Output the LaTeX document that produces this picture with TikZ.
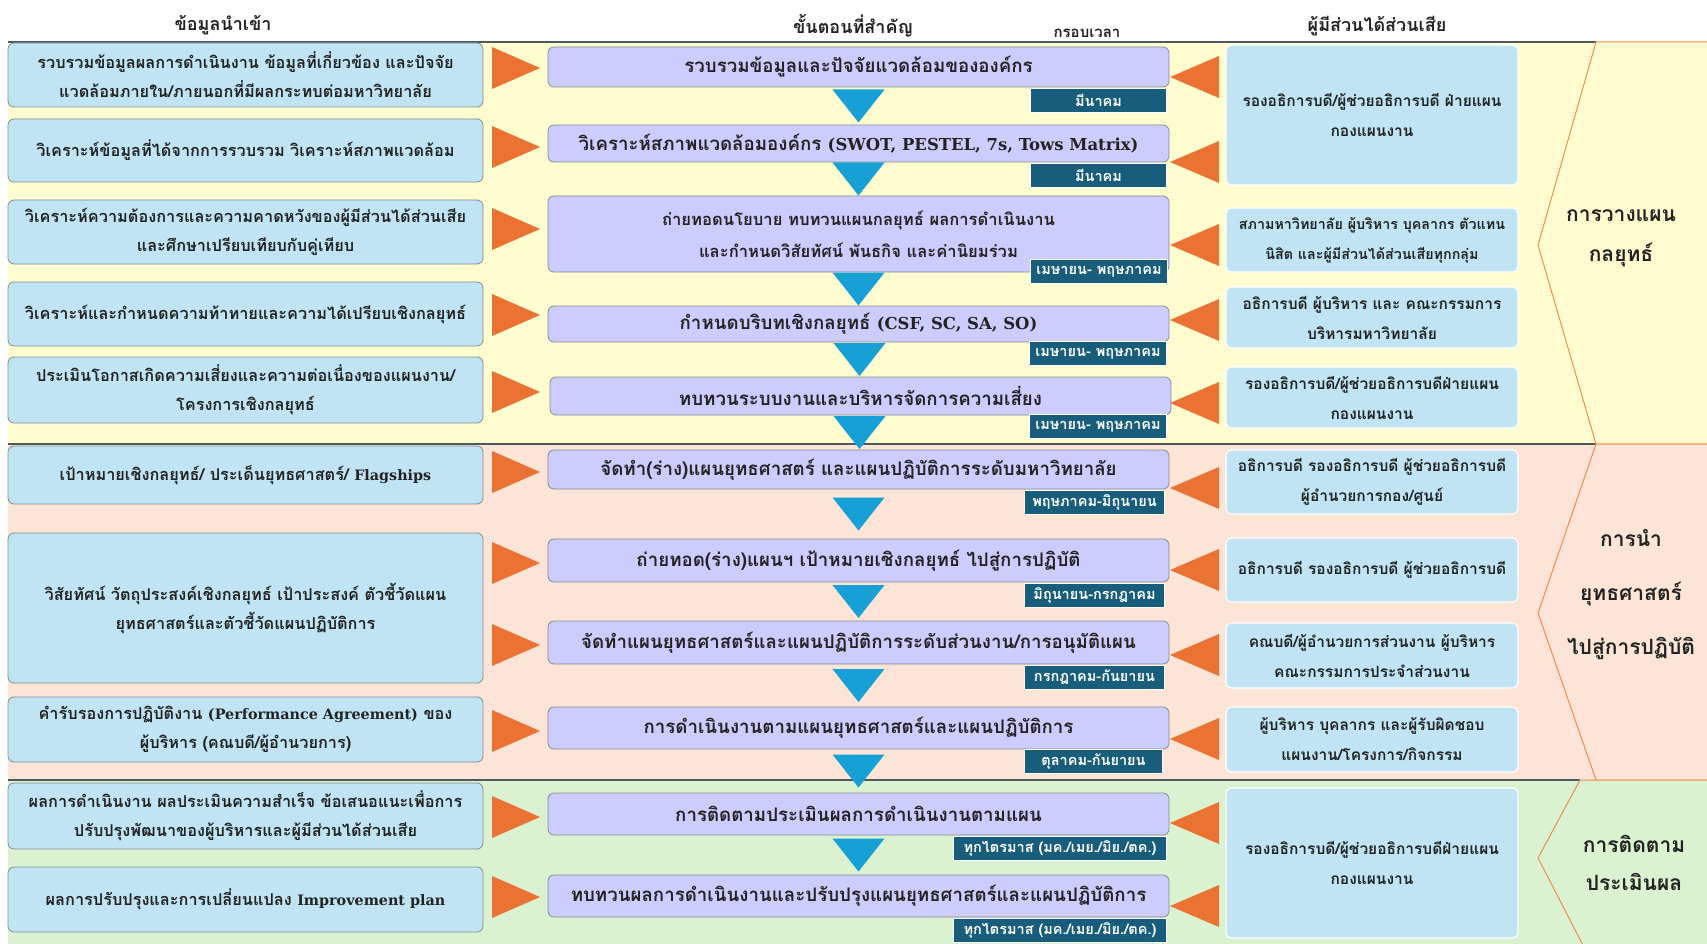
\documentclass[tikz,border=0pt]{standalone}
\usepackage{fontspec}
\usetikzlibrary{calc}
\newfontfamily\thai[Script=Thai]{Loma}
\newfontfamily\en[Scale=0.88]{DejaVu Serif}

\definecolor{bandyellow}{RGB}{255,253,208}
\definecolor{bandpink}{RGB}{252,228,214}
\definecolor{bandgreen}{RGB}{218,242,208}
\definecolor{skyfill}{RGB}{192,228,244}
\definecolor{stepfill}{RGB}{204,204,255}
\definecolor{tagfill}{RGB}{24,94,124}
\definecolor{flowblue}{RGB}{22,160,214}
\definecolor{pointer}{RGB}{234,114,50}
\definecolor{phaseline}{RGB}{240,140,80}
\definecolor{divider}{RGB}{75,90,95}
\definecolor{boxline}{RGB}{130,140,145}
\definecolor{ink}{RGB}{35,35,35}

\tikzset{
  inbox/.style={draw=boxline, fill=skyfill, rounded corners=6pt, line width=0.8pt,
    align=center, text=ink, inner sep=0pt, minimum width=475,
    font=\thai\bfseries\fontsize{16.3}{29}\selectfont},
  stepbox/.style={draw=boxline, fill=stepfill, rounded corners=6pt, line width=0.8pt,
    align=center, text=ink, inner sep=0pt, minimum width=621,
    font=\thai\bfseries\fontsize{18.7}{32}\selectfont},
  timetag/.style={draw=white, fill=tagfill, line width=1pt, anchor=north east,
    text=white, inner sep=0pt, minimum height=24,
    font=\thai\bfseries\fontsize{14.5}{16}\selectfont},
  holder/.style={draw=white, fill=skyfill, rounded corners=6pt, line width=1.2pt,
    align=center, text=ink, inner sep=0pt, minimum width=292,
    font=\thai\bfseries\fontsize{15.5}{30}\selectfont},
  pointtri/.style={fill=pointer},
  flowtri/.style={fill=flowblue},
  phase/.style={draw=phaseline, line width=1pt},
  phaselabel/.style={align=center, text=ink, font=\thai\bfseries\fontsize{21}{40}\selectfont},
  colhead/.style={text=ink, font=\thai\bfseries\fontsize{18}{20}\selectfont},
  bandline/.style={draw=divider, line width=1.2pt}
}

\begin{document}
\begin{tikzpicture}[x=1pt,y=-1pt]
\clip (0,0) rectangle (1707,944);
\fill[white] (0,0) rectangle (1707,944);

% phase bands
\fill[bandyellow] (8,42) rectangle (1707,444);
\fill[bandpink] (8,444) rectangle (1707,780);
\fill[bandgreen] (8,780) rectangle (1707,950);
\draw[bandline] (8,42) -- (1596,42);
\draw[bandline] (8,444) -- (1596,444);
\draw[bandline] (8,780) -- (1580,780);

% phase chevrons on the right
\filldraw[phase, fill=bandyellow] (1712,42) -- (1596,42) -- (1538,245) -- (1596,444) -- (1712,444);
\filldraw[phase, fill=bandpink] (1712,444) -- (1596,444) -- (1538,613) -- (1596,780) -- (1712,780);
\filldraw[phase, fill=bandgreen] (1712,780) -- (1580,780) -- (1538,858) -- (1588,955) -- (1712,955);

\node[phaselabel] (p1) at (1621,238) {การวางแผน\\กลยุทธ์};
\node[phaselabel, font=\thai\bfseries\fontsize{21}{54}\selectfont] (p2) at (1631,595) {การนำ\\ยุทธศาสตร์\\ไปสู่การปฏิบัติ};
\node[phaselabel, font=\thai\bfseries\fontsize{21}{38}\selectfont] (p3) at (1634,863) {การติดตาม\\ประเมินผล};

% column headings
\node[colhead] (h1) at (223,25) {ข้อมูลนำเข้า};
\node[colhead] (h2) at (853,26) {ขั้นตอนที่สำคัญ};
\node[colhead, font=\thai\bfseries\fontsize{15}{17}\selectfont] (h3) at (1087,33) {กรอบเวลา};
\node[colhead] (h4) at (1377,26) {ผู้มีส่วนได้ส่วนเสีย};

% inputs
\node[inbox, minimum height=64] (l1) at (245.5,75) {รวบรวมข้อมูลผลการดำเนินงาน ข้อมูลที่เกี่ยวข้อง และปัจจัย\\แวดล้อมภายใน/ภายนอกที่มีผลกระทบต่อมหาวิทยาลัย};
\node[inbox, minimum height=63] (l2) at (245.5,150.5) {วิเคราะห์ข้อมูลที่ได้จากการรวบรวม วิเคราะห์สภาพแวดล้อม};
\node[inbox, minimum height=64] (l3) at (245.5,232) {วิเคราะห์ความต้องการและความคาดหวังของผู้มีส่วนได้ส่วนเสีย\\และศึกษาเปรียบเทียบกับคู่เทียบ};
\node[inbox, minimum height=64] (l4) at (245.5,314) {วิเคราะห์และกำหนดความท้าทายและความได้เปรียบเชิงกลยุทธ์};
\node[inbox, minimum height=66] (l5) at (245.5,390) {ประเมินโอกาสเกิดความเสี่ยงและความต่อเนื่องของแผนงาน/\\โครงการเชิงกลยุทธ์};
\node[inbox, minimum height=58] (l6) at (245.5,475) {เป้าหมายเชิงกลยุทธ์/ ประเด็นยุทธศาสตร์/ {\en Flagships}};
\node[inbox, minimum height=150] (l7) at (245.5,608) {วิสัยทัศน์ วัตถุประสงค์เชิงกลยุทธ์ เป้าประสงค์ ตัวชี้วัดแผน\\ยุทธศาสตร์และตัวชี้วัดแผนปฏิบัติการ};
\node[inbox, minimum height=65] (l8) at (245.5,729.5) {คำรับรองการปฏิบัติงาน {\en (Performance Agreement)} ของ\\ผู้บริหาร (คณบดี/ผู้อำนวยการ)};
\node[inbox, minimum height=66] (l9) at (245.5,816) {ผลการดำเนินงาน ผลประเมินความสำเร็จ ข้อเสนอแนะเพื่อการ\\ปรับปรุงพัฒนาของผู้บริหารและผู้มีส่วนได้ส่วนเสีย};
\node[inbox, minimum height=65] (l10) at (245.5,899.5) {ผลการปรับปรุงและการเปลี่ยนแปลง {\en Improvement plan}};

% key steps
\node[stepbox, minimum height=40] (m1) at (858.5,67) {รวบรวมข้อมูลและปัจจัยแวดล้อมขององค์กร};
\node[stepbox, minimum height=37] (m2) at (858.5,143.5) {วิเคราะห์สภาพแวดล้อมองค์กร {\en (SWOT, PESTEL, 7s, Tows Matrix)}};
\node[stepbox, minimum height=76, font=\thai\bfseries\fontsize{16.6}{32}\selectfont] (m3) at (858.5,234) {ถ่ายทอดนโยบาย ทบทวนแผนกลยุทธ์ ผลการดำเนินงาน\\และกำหนดวิสัยทัศน์ พันธกิจ และค่านิยมร่วม};
\node[stepbox, minimum height=36] (m4) at (858.5,324) {กำหนดบริบทเชิงกลยุทธ์ {\en (CSF, SC, SA, SO)}};
\node[stepbox, minimum height=38] (m5) at (860.5,396) {ทบทวนระบบงานและบริหารจัดการความเสี่ยง};
\node[stepbox, minimum height=39] (m6) at (858.5,469.5) {จัดทำ(ร่าง)แผนยุทธศาสตร์ และแผนปฏิบัติการระดับมหาวิทยาลัย};
\node[stepbox, minimum height=43] (m7) at (858.5,560.5) {ถ่ายทอด(ร่าง)แผนฯ เป้าหมายเชิงกลยุทธ์ ไปสู่การปฏิบัติ};
\node[stepbox, minimum height=43] (m8) at (858.5,642.5) {จัดทำแผนยุทธศาสตร์และแผนปฏิบัติการระดับส่วนงาน/การอนุมัติแผน};
\node[stepbox, minimum height=42] (m9) at (858.5,728) {การดำเนินงานตามแผนยุทธศาสตร์และแผนปฏิบัติการ};
\node[stepbox, minimum height=42] (m10) at (858.5,814) {การติดตามประเมินผลการดำเนินงานตามแผน};
\node[stepbox, minimum height=42] (m11) at (858.5,896) {ทบทวนผลการดำเนินงานและปรับปรุงแผนยุทธศาสตร์และแผนปฏิบัติการ};

% flow between the steps
\foreach \a/\b in {m1/m2,m2/m3,m3/m4,m4/m5,m5/m6,m6/m7,m7/m8,m8/m9,m9/m10,m10/m11}
  \fill[flowtri] ($(\a.south)!0.5!(\b.north)$) ++(-26,-16.5) -- ++(52,0) -- ++(-26,33) -- cycle;

% time frames
\node[timetag, minimum width=136] (t1) at (1167,88) {มีนาคม};
\node[timetag, minimum width=136] (t2) at (1167,163) {มีนาคม};
\node[timetag, minimum width=137] (t3) at (1168,259) {เมษายน- พฤษภาคม};
\node[timetag, minimum width=137] (t4) at (1167,341) {เมษายน- พฤษภาคม};
\node[timetag, minimum width=137] (t5) at (1167,414) {เมษายน- พฤษภาคม};
\node[timetag, minimum width=140] (t6) at (1165,490) {พฤษภาคม-มิถุนายน};
\node[timetag, minimum width=140] (t7) at (1165,583) {มิถุนายน-กรกฎาคม};
\node[timetag, minimum width=140] (t8) at (1165,665) {กรกฎาคม-กันยายน};
\node[timetag, minimum width=138] (t9) at (1163,749) {ตุลาคม-กันยายน};
\node[timetag, minimum width=213] (t10) at (1167,836) {ทุกไตรมาส (มค./เมย./มิย./ตค.)};
\node[timetag, minimum width=213] (t11) at (1167,918) {ทุกไตรมาส (มค./เมย./มิย./ตค.)};

% stakeholders
\node[holder, minimum height=140] (r1) at (1372,115) {รองอธิการบดี/ผู้ช่วยอธิการบดี ฝ่ายแผน\\กองแผนงาน};
\node[holder, minimum height=64, font=\thai\bfseries\fontsize{14.3}{30}\selectfont] (r2) at (1372,240) {สภามหาวิทยาลัย ผู้บริหาร บุคลากร ตัวแทน\\นิสิต และผู้มีส่วนได้ส่วนเสียทุกกลุ่ม};
\node[holder, minimum height=61] (r3) at (1372,317.5) {อธิการบดี ผู้บริหาร และ คณะกรรมการ\\บริหารมหาวิทยาลัย};
\node[holder, minimum height=61] (r4) at (1372,397.5) {รองอธิการบดี/ผู้ช่วยอธิการบดีฝ่ายแผน\\กองแผนงาน};
\node[holder, minimum height=64] (r5) at (1372,482) {อธิการบดี รองอธิการบดี ผู้ช่วยอธิการบดี\\ผู้อำนวยการกอง/ศูนย์};
\node[holder, minimum height=64] (r6) at (1372,570) {อธิการบดี รองอธิการบดี ผู้ช่วยอธิการบดี};
\node[holder, minimum height=65] (r7) at (1372,655.5) {คณบดี/ผู้อำนวยการส่วนงาน ผู้บริหาร\\คณะกรรมการประจำส่วนงาน};
\node[holder, minimum height=65] (r8) at (1372,739.5) {ผู้บริหาร บุคลากร และผู้รับผิดชอบ\\แผนงาน/โครงการ/กิจกรรม};
\node[holder, minimum height=150] (r9) at (1372,863) {รองอธิการบดี/ผู้ช่วยอธิการบดีฝ่ายแผน\\กองแผนงาน};

% inputs feed the steps
\foreach \c in {68,147,229,315,392,472,563,645,731,817,897}
  \fill[pointtri] (492,\c-21) -- (540,\c) -- (492,\c+21) -- cycle;

% stakeholders feed the steps
\foreach \c in {77,162,245,320,403,488,570,655,739,823,906}
  \fill[pointtri] (1219,\c-21) -- (1170,\c) -- (1219,\c+21) -- cycle;
\end{tikzpicture}
\end{document}
